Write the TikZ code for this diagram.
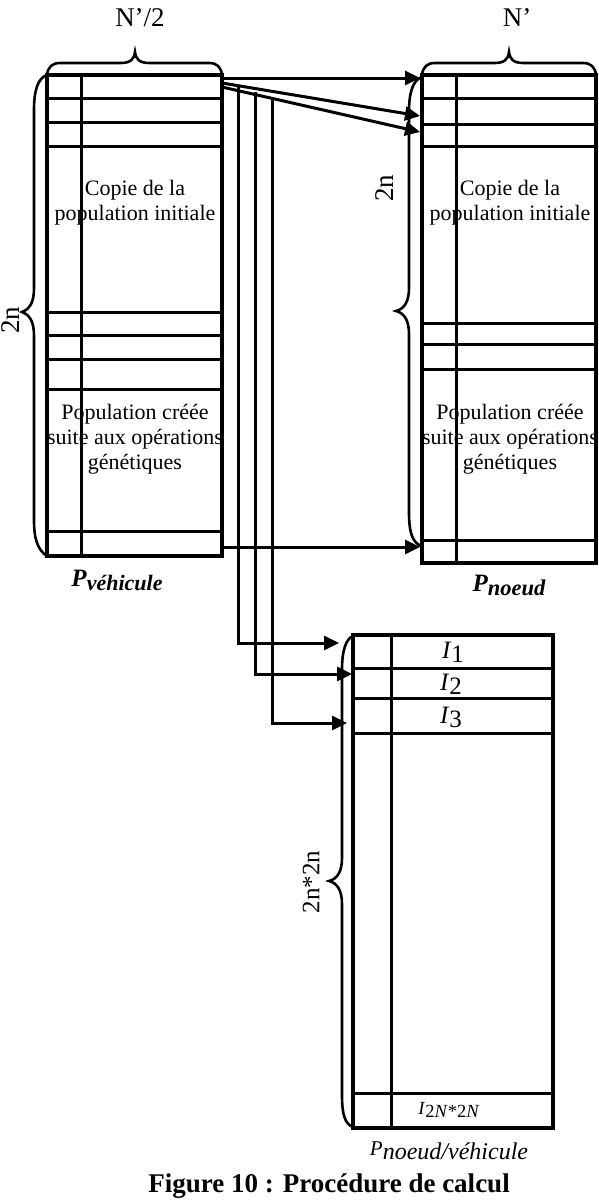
\documentclass[tikz,border=0pt]{standalone}
\usepackage{fontspec}
\setmainfont{Liberation Serif}
\usetikzlibrary{arrows.meta}
\begin{document}
\begin{tikzpicture}[x=1pt,y=-1pt,
  frame/.style={line width=3.2pt},
  rowline/.style={line width=3pt},
  arr/.style={line width=3pt,-{Triangle[length=15pt,width=14pt]}},
  brc/.style={line width=2.6pt},
  txt/.style={align=center,font=\fontsize{22}{25}\selectfont,inner sep=0pt},
  lbl/.style={font=\fontsize{27}{30}\selectfont,inner sep=0pt},
  sub/.style={inner sep=0pt}]
\useasboundingbox (0,0) rectangle (598,1200);

% texts (drawn first, lines on top)
\node[txt] (tL1) at (135,203) {Copie de la\\population initiale};
\node[txt] (tR1) at (510,203) {Copie de la\\population initiale};
\node[txt] (tL2) at (135,439) {Population créée\\suite aux opérations\\génétiques};
\node[txt] (tR2) at (510,439) {Population créée\\suite aux opérations\\génétiques};

% left table
\foreach \y in {98,122,146,312,335,359,389,531} \draw[rowline] (47,\y) -- (222,\y);
\draw[rowline] (81,75) -- (81,556);
\draw[frame] (47,75) rectangle (222,556);
% right table
\foreach \y in {98,124,146,323,344,369,540} \draw[rowline] (422,\y) -- (596,\y);
\draw[rowline] (456,75) -- (456,563);
\draw[frame] (422,75) rectangle (596,563);
% bottom table
\foreach \y in {668,698,733,1093} \draw[rowline] (353,\y) -- (553,\y);
\draw[rowline] (391,635) -- (391,1128);
\draw[frame] (353,635) rectangle (553,1128);

% named anchor points
\coordinate (s1) at (222,78);  \coordinate (e1) at (420,78);
\coordinate (s2) at (222,83);  \coordinate (e2) at (420,116);
\coordinate (s3) at (222,87);  \coordinate (e3) at (420,132);
\coordinate (s4) at (222,547); \coordinate (e4) at (420,547);
\coordinate (v1) at (238,86);  \coordinate (c1) at (238,643); \coordinate (f1) at (339,643);
\coordinate (v2) at (255,92);  \coordinate (c2) at (255,674); \coordinate (f2) at (352,674);
\coordinate (v3) at (272,99);  \coordinate (c3) at (272,723); \coordinate (f3) at (347,723);

\draw[arr] (s1) -- (e1);
\draw[arr] (s2) -- (e2);
\draw[arr] (s3) -- (e3);
\draw[arr] (s4) -- (e4);
\draw[arr] (v1) -- (c1) -- (f1);
\draw[arr] (v2) -- (c2) -- (f2);
\draw[arr] (v3) -- (c3) -- (f3);

% braces
\draw[brc] (47,75) .. controls (38,78) and (34,90) .. (34,110) -- (34,288)
  .. controls (34,302) and (30,309) .. (22,312)
  .. controls (30,315) and (34,322) .. (34,336) -- (34,520)
  .. controls (34,540) and (38,550) .. (47,556);
\draw[brc] (422,77) .. controls (413,80) and (409,92) .. (409,112) -- (409,288)
  .. controls (409,302) and (404,309) .. (396,311)
  .. controls (404,313) and (409,320) .. (409,334) -- (409,512)
  .. controls (409,532) and (412,542) .. (421,546);
\draw[brc] (353,636) .. controls (346,639) and (342,650) .. (342,670) -- (342,858)
  .. controls (342,872) and (337,879) .. (329,881)
  .. controls (337,883) and (342,890) .. (342,904) -- (342,1095)
  .. controls (342,1115) and (345,1124) .. (353,1127);
\draw[brc] (47,75) .. controls (48,67) and (52,63) .. (60,63) -- (120,63)
  .. controls (130,63) and (134,60) .. (135,52)
  .. controls (136,60) and (140,63) .. (150,63) -- (209,63)
  .. controls (217,63) and (221,67) .. (222,75);
\draw[brc] (422,75) .. controls (423,67) and (427,63) .. (435,63) -- (494,63)
  .. controls (504,63) and (508,60) .. (509,52)
  .. controls (510,60) and (514,63) .. (524,63) -- (583,63)
  .. controls (591,63) and (595,67) .. (596,75);

% dimension labels
\node[lbl] (nL) at (140,18) {N’/2};
\node[lbl] (nR) at (517,18) {N’};
\node[lbl,rotate=90] (hL) at (11,320) {2n};
\node[lbl,rotate=90] (hR) at (385,188) {2n};
\node[lbl,rotate=90,font=\fontsize{25}{28}\selectfont] (hB) at (311,882) {2n*2n};

% row labels
\node[sub,font=\fontsize{25}{28}\selectfont] (i1) at (453,652) {\textit{I}\raisebox{-0.35ex}{1}};
\node[sub,font=\fontsize{25}{28}\selectfont] (i2) at (451,684) {\textit{I}\raisebox{-0.35ex}{2}};
\node[sub,font=\fontsize{25}{28}\selectfont] (i3) at (451,717) {\textit{I}\raisebox{-0.35ex}{3}};
\node[sub,font=\fontsize{18.5}{20}\selectfont] (iN) at (449,1110) {\textit{I}\raisebox{-0.35ex}{2\textit{N}*2\textit{N}}};

% table names
\node[sub] (pv) at (117,580) {\fontsize{25}{27}\selectfont\bfseries\itshape P\raisebox{-0.35ex}{\fontsize{22}{24}\selectfont véhicule}};
\node[sub] (pn) at (509,585) {\fontsize{25}{27}\selectfont\bfseries\itshape P\raisebox{-0.35ex}{\fontsize{22.5}{24}\selectfont noeud}};
\node[sub] (pnv) at (449,1151) {\fontsize{21}{24}\selectfont\itshape P\raisebox{-0.4ex}{\fontsize{24}{26}\selectfont noeud/véhicule}};
\node[sub] (cap) at (329,1186) {\fontsize{27}{30}\selectfont\bfseries Figure 10 : Procédure de calcul};
\end{tikzpicture}
\end{document}
